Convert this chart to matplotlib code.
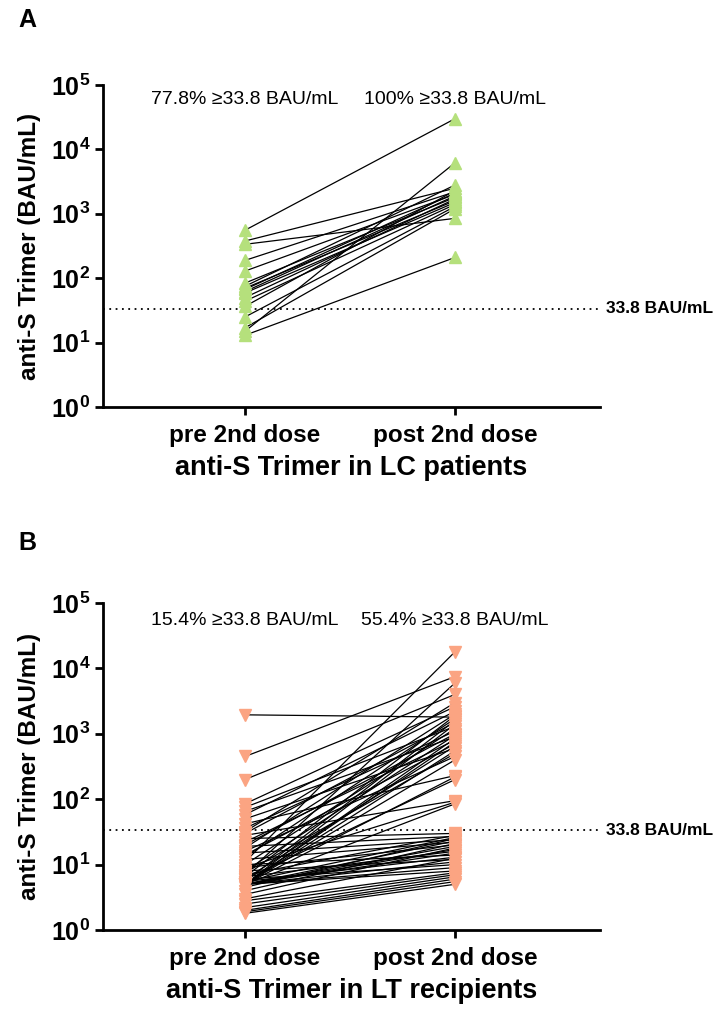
import matplotlib
matplotlib.use("Agg")
import matplotlib.pyplot as plt
from matplotlib.ticker import FixedLocator, NullLocator

plt.rcParams['font.family'] = ['Liberation Sans', 'DejaVu Sans']
plt.rcParams['mathtext.fontset'] = 'custom'
plt.rcParams['mathtext.rm'] = 'Liberation Sans'
plt.rcParams['mathtext.bf'] = 'Liberation Sans:bold'

# data
groups = ['pre 2nd dose', 'post 2nd dose']
cutoff = 33.8

lc_pre = [556, 378, 336, 189, 129, 84, 75, 70, 67, 62, 59, 50, 44, 36.5,
          25, 17, 15, 13]
lc_post = [30000, 2500, 850, 2200, 2000, 1800, 2800, 1600, 2100, 1900, 1500,
           1700, 1400, 2300, 1300, 1200, 6200, 210]
lc_text = ['77.8% ≥33.8 BAU/mL', '100% ≥33.8 BAU/mL']

lt_pre = [1950, 450, 200, 85, 75, 65, 58, 50, 42, 36,
          32, 30, 28, 25, 22, 20, 19, 18, 16, 15,
          14, 13, 12, 11, 10, 10, 9, 9, 8, 8,
          7.5, 7, 7, 6.5, 6.5, 6, 6, 6, 5.5, 5.5,
          5.5, 5, 5, 5, 5, 5, 5, 5, 5, 5,
          5, 5, 5, 5, 5, 4.5, 4, 3.5, 3, 2.8,
          2.5, 2.2, 2, 1.9, 1.8]
lt_post = [1800, 7500, 4000, 2600, 1300, 900, 2200, 600, 230, 1100,
           3000, 1500, 95, 30, 800, 1000, 27, 2000, 450, 24,
           700, 1700, 22, 18000, 14, 1200, 90, 20, 950, 12,
           500, 28, 6000, 16, 1900, 650, 10, 200, 13, 1600,
           26, 850, 19, 1400, 400, 11, 750, 15, 220, 8,
           550, 23, 85, 17, 9, 25, 21, 18, 12.5, 7.5,
           7, 6.5, 6, 5.5, 5]
lt_text = ['15.4% ≥33.8 BAU/mL', '55.4% ≥33.8 BAU/mL']

W, H = 717, 1017


def draw_panel(ax, pre, post, color, marker, texts, xlabel, text_y):
    for a, b in zip(pre, post):
        ax.plot([0, 1], [a, b], color='black', lw=0.9, zorder=2)
    ax.plot([0] * len(pre), pre, ls='none', marker=marker, ms=9,
            color=color, mec=color, zorder=3, clip_on=False)
    ax.plot([1] * len(post), post, ls='none', marker=marker, ms=9,
            color=color, mec=color, zorder=3, clip_on=False)

    ax.set_yscale('log')
    ax.set_ylim(1, 1e5)
    ax.set_xlim(-0.676, 1.69)
    ax.yaxis.set_major_locator(FixedLocator([10 ** i for i in range(6)]))
    ax.yaxis.set_minor_locator(NullLocator())
    ax.set_yticklabels([r'$\mathbf{10^{%d}}$' % i for i in range(6)],
                       fontsize=18)
    ax.set_xticks([0, 1])
    ax.set_xticklabels(groups, fontsize=17.5, fontweight='bold')

    # 閾值虛線
    ax.axhline(cutoff, color='black', ls=(0, (1, 2.5)), lw=1.3, zorder=1)
    ax.text(1.72, cutoff, '33.8 BAU/mL', fontsize=12.5, fontweight='bold',
            va='center', ha='left', clip_on=False)

    for x, t in zip([0, 1], texts):
        ax.text(x, text_y, t, fontsize=14, ha='center', va='center')

    ax.set_ylabel('anti-S Trimer (BAU/mL)', fontsize=17.5, fontweight='bold')
    ax.yaxis.set_label_coords(-0.125, 0.5)
    ax.set_xlabel(xlabel, fontsize=19.5, fontweight='bold', labelpad=6)

    for s in ['top', 'right']:
        ax.spines[s].set_visible(False)
    for s in ['left', 'bottom']:
        ax.spines[s].set_linewidth(2)
    ax.tick_params(width=2, length=6, pad=3)
    ax.tick_params(axis='x', pad=6)


def main():
    fig = plt.figure(figsize=(W / 100, H / 100), dpi=100)

    ax1 = fig.add_axes([103 / W, 1 - 407 / H, 497 / W, 322 / H])
    draw_panel(ax1, lc_pre, lc_post, '#B5E07C', '^', lc_text,
               'anti-S Trimer in LC patients', 10 ** 4.78)

    ax2 = fig.add_axes([103 / W, 1 - 930 / H, 497 / W, 327 / H])
    draw_panel(ax2, lt_pre, lt_post, '#FBA482', 'v', lt_text,
               'anti-S Trimer in LT recipients', 10 ** 4.73)

    fig.text(18 / W, 1 - 20 / H, 'A', fontsize=18, fontweight='bold',
             va='center', ha='left')
    fig.text(18 / W, 1 - 543 / H, 'B', fontsize=18, fontweight='bold',
             va='center', ha='left')

    fig.savefig('out.png', dpi=100)


if __name__ == "__main__":
    main()
